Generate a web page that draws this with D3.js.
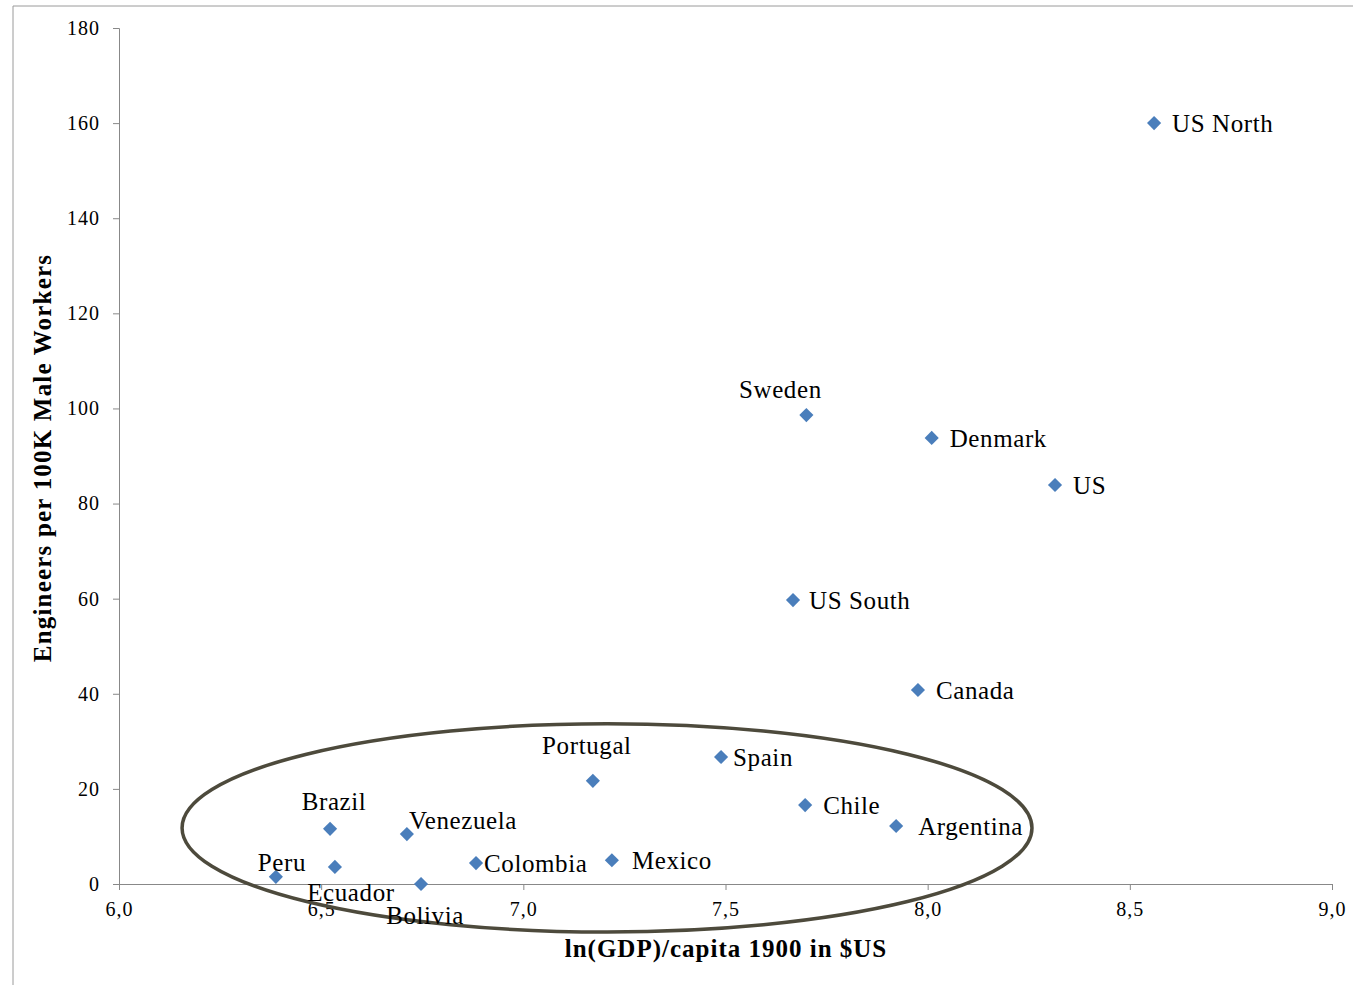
<!DOCTYPE html>
<html><head><meta charset="utf-8">
<script src="https://cdnjs.cloudflare.com/ajax/libs/d3/7.8.5/d3.min.js"></script>
<style>body{margin:0;background:#fff}svg{font-family:"Liberation Serif","Times New Roman",serif}</style>
</head><body><svg id="c" width="1353" height="985"></svg>
<script>
var countries = ["US North","Sweden","Denmark","US","US South","Canada","Portugal","Spain","Chile","Argentina","Brazil","Venezuela","Colombia","Mexico","Peru","Ecuador","Bolivia"];
var lnGdp = [8.56,7.70,8.01,8.315,7.667,7.976,7.172,7.489,7.697,7.922,6.522,6.712,6.883,7.219,6.388,6.534,6.747];
var engineers = [160,98.6,93.8,83.9,59.7,40.8,21.7,26.7,16.6,12.2,11.6,10.5,4.4,5.0,1.5,3.6,0];
var xTicks = [6.0,6.5,7.0,7.5,8.0,8.5,9.0];
var yTicks = [0,20,40,60,80,100,120,140,160,180];
// label offsets in px (dx, dy, anchor)
var labelPos = [[18,0,"start"],[-26,-26,"middle"],[18,0,"start"],[18,0,"start"],[16,0,"start"],[18,0,"start"],[-6,-36,"middle"],[12,0,"start"],[18,0,"start"],[22,0,"start"],[4,-28,"middle"],[2,-14,"start"],[8,0,"start"],[20,0,"start"],[6,-15,"middle"],[16,25,"middle"],[4,31,"middle"]];

var svg = d3.select("#c");
svg.append("path").attr("d","M13,985V6H1353").attr("fill","none").attr("stroke","#9a9a9a");
var x = d3.scaleLinear().domain([6,9]).range([119,1332]);
var y = d3.scaleLinear().domain([0,180]).range([884,28]);

var xa = svg.append("g").attr("transform","translate(0,884)")
  .call(d3.axisBottom(x).tickValues(xTicks).tickSize(6).tickFormat(function(d){return d3.format(".1f")(d).replace(".",",");}));
var ya = svg.append("g").attr("transform","translate(119,0)")
  .call(d3.axisLeft(y).tickValues(yTicks).tickSize(6));
[xa,ya].forEach(function(a){
  a.select(".domain").attr("stroke","#888");
  a.selectAll(".tick line").attr("stroke","#888");
  a.selectAll("text").attr("font-size",20).attr("letter-spacing",1).attr("fill","#000").attr("font-family","Liberation Serif");
});
xa.selectAll("text").attr("dy","1.15em");
ya.selectAll("text").attr("dx","-0.5em");

svg.append("text").attr("x",726).attr("y",957).attr("text-anchor","middle")
  .attr("font-size",25).attr("letter-spacing",1).attr("font-weight","bold").text("ln(GDP)/capita 1900 in  $US");
svg.append("text").attr("transform","translate(51,458) rotate(-90)").attr("text-anchor","middle")
  .attr("font-size",25).attr("letter-spacing",1.2).attr("font-weight","bold").text("Engineers per 100K Male Workers");

// ellipse
svg.append("ellipse").attr("cx",x(7.207)).attr("cy",y(11.8))
  .attr("rx",x(7.207+1.051)-x(7.207)).attr("ry",y(0)-y(21.9))
  .attr("fill","none").attr("stroke","#4d4a3c").attr("stroke-width",3.5);

var pts = svg.append("g").selectAll("g").data(countries).enter().append("g")
  .attr("transform",function(d,i){return "translate("+x(lnGdp[i])+","+y(engineers[i])+")";});
pts.append("path").attr("d",d3.symbol(d3.symbolSquare,100)).attr("transform","rotate(45)").attr("fill","#4a7ebb");
pts.append("text").attr("x",function(d,i){return labelPos[i][0];}).attr("y",function(d,i){return labelPos[i][1];})
  .attr("dy","0.35em").attr("text-anchor",function(d,i){return labelPos[i][2];})
  .attr("font-size",25).attr("letter-spacing",0.6).text(function(d){return d;});
</script></body></html>
